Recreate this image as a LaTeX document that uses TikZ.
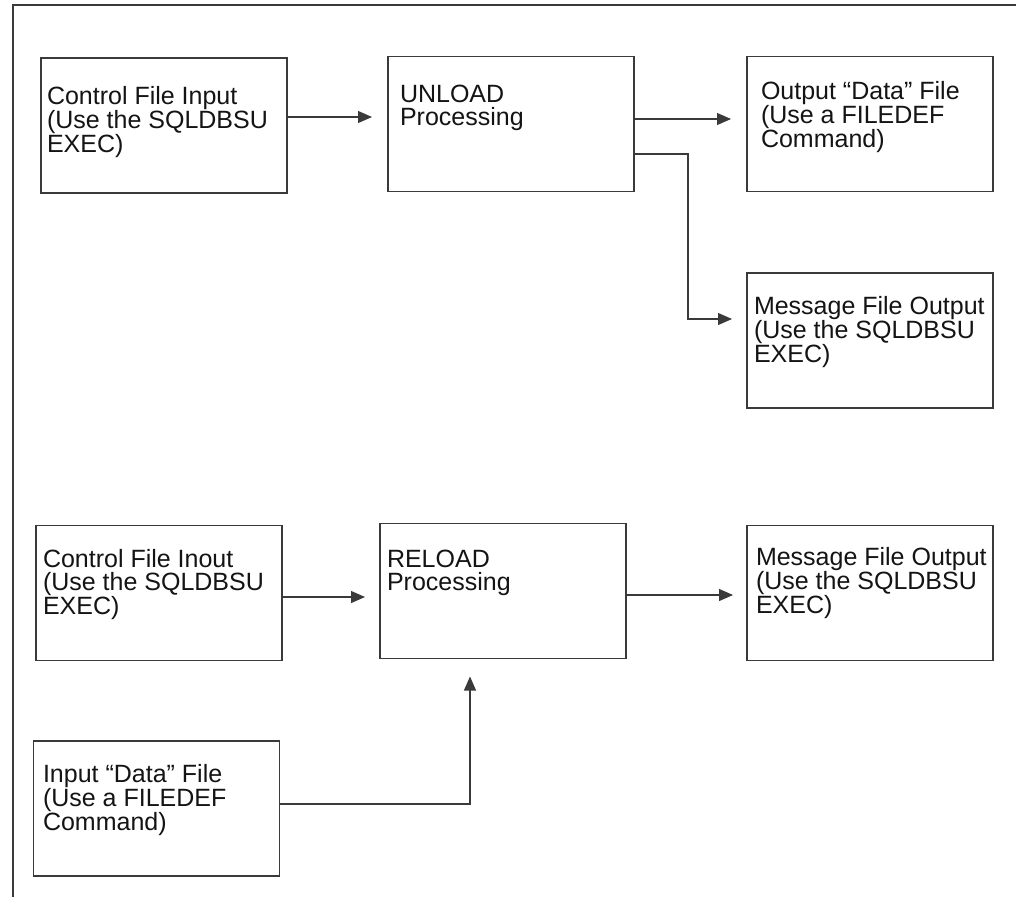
\documentclass[tikz,border=0pt]{standalone}
\usepackage{fontspec}
\setmainfont{Liberation Sans}
\usetikzlibrary{arrows.meta}
\definecolor{ln}{HTML}{3A3A3A}
\definecolor{tx}{HTML}{141414}
\newcommand{\bxtext}[1]{\parbox[t]{240pt}{\raggedright\fontsize{25}{23}\selectfont #1}}
\begin{document}
\begin{tikzpicture}[x=1pt,y=-1pt,
  boxnode/.style={draw=ln,line width=1.1pt,minimum width=246pt,minimum height=135pt,inner sep=0pt,outer sep=0pt},
  txtnode/.style={anchor=base west,inner sep=0pt,outer sep=0pt,text=tx},
  arr/.style={draw=ln,line width=1.1pt,-{Triangle[length=14pt,width=12pt]}},
  frameline/.style={draw=ln,line width=1.4pt}]
\useasboundingbox (0,0) rectangle (1016,897);
\fill[white] (0,0) rectangle (1016,897);
% frame
\coordinate (f1) at (13,897);
\coordinate (f2) at (13,5);
\coordinate (f3) at (1016,5);
\draw[frameline] (f1) -- (f2) -- (f3);
% boxes
\node[boxnode] (ctrlin) at (164,125.5) {};
\node[boxnode] (unload) at (511,124) {};
\node[boxnode] (outdata) at (870,124) {};
\node[boxnode] (msgone) at (870,340.5) {};
\node[boxnode] (ctrltwo) at (159,593) {};
\node[boxnode] (reload) at (503,591) {};
\node[boxnode] (msgtwo) at (870,593) {};
\node[boxnode] (indata) at (156.5,808.5) {};
% texts
\node[txtnode] (t1) at (47,104) {\bxtext{Control File Input\\(Use the SQLDBSU\\EXEC)}};
\node[txtnode] (t2) at (400,102) {\bxtext{UNLOAD\\Processing}};
\node[txtnode] (t3) at (761,99) {\bxtext{Output “Data” File\\(Use a FILEDEF\\Command)}};
\node[txtnode] (t4) at (754,314) {\bxtext{Message File Output\\(Use the SQLDBSU\\EXEC)}};
\node[txtnode] (t5) at (43,567) {\bxtext{Control File Inout\\(Use the SQLDBSU\\EXEC)}};
\node[txtnode] (t6) at (387,567) {\bxtext{RELOAD\\Processing}};
\node[txtnode] (t7) at (756,565) {\bxtext{Message File Output\\(Use the SQLDBSU\\EXEC)}};
\node[txtnode] (t8) at (43,782) {\bxtext{Input “Data” File\\(Use a FILEDEF\\Command)}};
% connectors
\coordinate (ya) at (0,117);
\coordinate (yb) at (0,119);
\coordinate (c1) at (688,154);
\coordinate (c2) at (688,319);
\coordinate (yd) at (0,597);
\coordinate (ye) at (0,595);
\coordinate (c3) at (470,804);
\draw[arr,shorten >=16pt] (ctrlin.east |- ya) -- (unload.west |- ya);
\draw[arr,shorten >=16pt] (unload.east |- yb) -- (outdata.west |- yb);
\draw[arr,shorten >=15pt] (unload.east |- c1) -- (c1) -- (c2) -- (msgone.west |- c2);
\draw[arr,shorten >=15pt] (ctrltwo.east |- yd) -- (reload.west |- yd);
\draw[arr,shorten >=14pt] (reload.east |- ye) -- (msgtwo.west |- ye);
\draw[arr,shorten >=18pt] (indata.east |- c3) -- (c3) -- (c3 |- reload.south);
\end{tikzpicture}
\end{document}
